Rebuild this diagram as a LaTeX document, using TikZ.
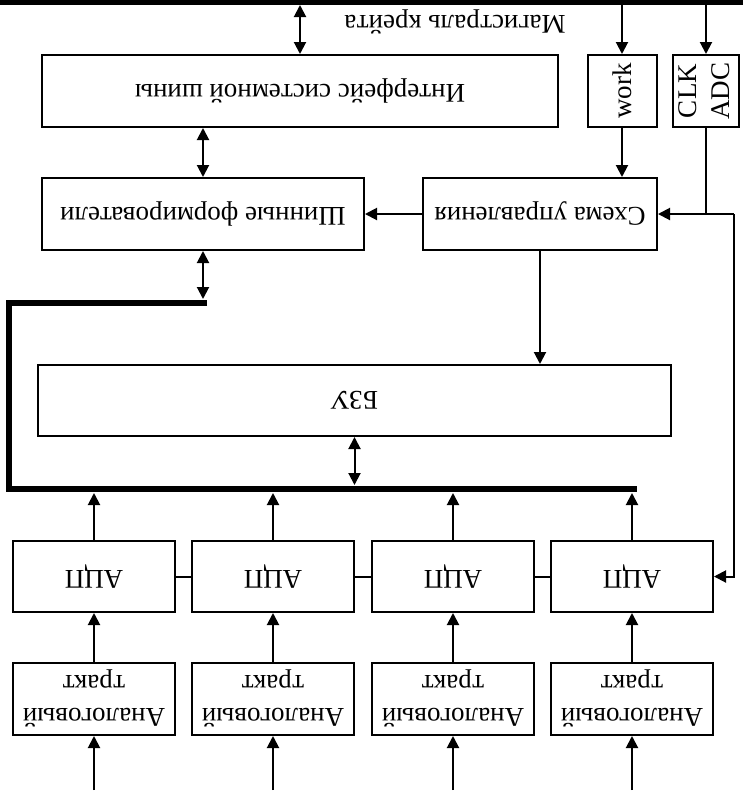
\documentclass[tikz,border=0pt]{standalone}
\usepackage{fontspec}
\setmainfont{Liberation Serif}
\usetikzlibrary{arrows.meta,positioning,calc}
\tikzstyle{block}=[draw,line width=1pt,inner sep=0pt,minimum height=36pt,align=center]
\tikzstyle{arr}=[line width=1pt,-{Triangle[length=6pt,width=6pt]}]
\tikzstyle{darr}=[line width=1pt,{Triangle[length=6pt,width=6pt]}-{Triangle[length=6pt,width=6pt]}]
\tikzstyle{bus}=[line width=3pt]
\newcommand{\flip}[1]{\rotatebox[origin=c]{180}{#1}}

\begin{document}
\begin{tikzpicture}[x=0.5pt,y=-0.5pt,font=\fontsize{13.5}{16.5}\selectfont]
    \useasboundingbox (0,0) rectangle (743,800);
    % crate bus
    \draw[line width=2.5pt] (0,2.5) -- (743,2.5);
    \coordinate (crate) at (0,5);
    \node[rotate=180] (crlabel) at (455,22) {Магистраль крейта};

    \node[block,minimum width=258pt] (iface) at (300,91) {\flip{Интерфейс системной шины}};
    \node[block,minimum width=34.5pt] (work) at (622,91) {\rotatebox{90}{work}};
    \node[block,minimum width=31.5pt] (clk) at (706,91) {\rotatebox{90}{\begin{tabular}{@{}c@{}}CLK\\ADC\end{tabular}}};
    \node[block,minimum width=161pt] (shin) at (203,214) {\flip{Шинные формирователи}};
    \node[block,minimum width=117pt] (ctrl) at (540,214) {\flip{Схема управления}};
    \node[block,minimum width=316.5pt,minimum height=35.5pt] (bzu) at (354.5,400.5) {\flip{БЗУ}};

    % internal bus
    \coordinate (busA) at (207,303);
    \coordinate (busB) at (9,303);
    \coordinate (busC) at (9,489);
    \coordinate (busD) at (637,489);
    \draw[bus] (busA) -- (busB) -- (busC) -- (busD);

    \foreach \i/\x in {1/94,2/273,3/453,4/632} {
      \node[block,minimum width=81pt,minimum height=35.5pt] (adc\i) at (\x,576.5) {\flip{АЦП}};
      \node[block,minimum width=81pt] (an\i) at (\x,699) {\flip{\begin{tabular}{@{}c@{}}Аналоговый\\тракт\end{tabular}}};
      \coordinate (in\i) at (\x,790);
      \draw[arr] (in\i) -- (an\i.south);
      \draw[arr] (an\i.north) -- (adc\i.south);
      \draw[arr] (adc\i.north) -- ($(adc\i.north |- busD)+(0,4)$);
    }
    \draw[line width=1pt] (adc1.east) -- (adc2.west);
    \draw[line width=1pt] (adc2.east) -- (adc3.west);
    \draw[line width=1pt] (adc3.east) -- (adc4.west);

    \draw[darr] (iface.north |- crate) -- (iface.north);
    \draw[darr] (iface.south -| shin.south) -- (shin.north);
    \draw[darr] (shin.south) -- ($(busA -| shin.south)+(0,-4)$);
    \draw[darr] (bzu.south) -- ($(busC -| bzu.south)+(0,-4)$);
    \draw[arr] (work.north |- crate) -- (work.north);
    \draw[arr] (clk.north |- crate) -- (clk.north);
    \draw[arr] (work.south) -- (work.south |- ctrl.north);
    \draw[arr] (ctrl.west) -- (shin.east);
    \draw[arr] (ctrl.south) -- (ctrl.south |- bzu.north);

    % clock line
    \coordinate (clkR) at (734,214);
    \draw[line width=1pt] (clk.south) -- (clk.south |- ctrl.east);
    \draw[arr] (clkR) -- (ctrl.east);
    \draw[arr] (clkR) |- (adc4.east);
\end{tikzpicture}
\end{document}
